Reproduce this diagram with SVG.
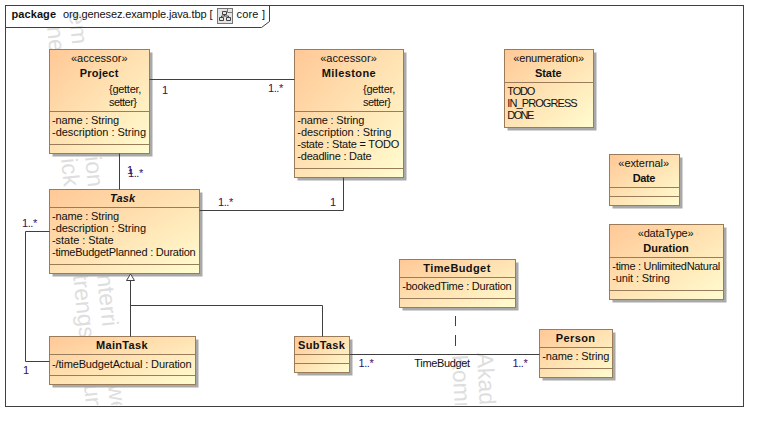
<svg xmlns="http://www.w3.org/2000/svg" width="758" height="421" viewBox="0 0 758 421">
<style>
text{font-family:"Liberation Sans",Arial,sans-serif;font-size:11px;fill:#111}
.t{font-weight:bold;text-anchor:middle}
.c{text-anchor:middle}
.m{fill:#3c0a5c}
.b{fill:url(#g);stroke:#9a7b5a;stroke-width:1}
.s{fill:#a9a9a9}
.d{stroke:#9a7b5a;stroke-width:1;fill:none}
.l{stroke:#404040;stroke-width:1;fill:none}
.w{font-size:23px;fill:#dedede}
</style>
<defs>
<linearGradient id="g" x1="0" y1="0" x2="1" y2="1">
<stop offset="0" stop-color="#ffc896"/>
<stop offset="1" stop-color="#fffdd0"/>
</linearGradient>
<clipPath id="wc"><rect x="6" y="6" width="737" height="399"/></clipPath>
</defs>
<rect width="758" height="421" fill="#fff"/>
<g id="watermark" clip-path="url(#wc)">
<text class="w" transform="translate(47,27) rotate(84)">ne</text>
<text class="w" transform="translate(69,13) rotate(84)">em</text>
<text class="w" transform="translate(61,159) rotate(84)">ick</text>
<text class="w" transform="translate(85,157) rotate(84)">ion</text>
<text class="w" transform="translate(73,275) rotate(84)">trengs</text>
<text class="w" transform="translate(97,275) rotate(84)">nterri</text>
<text class="w" transform="translate(84,385) rotate(84)">un</text>
<text class="w" transform="translate(108,385) rotate(84)">we</text>
<text class="w" transform="translate(452,355) rotate(87)">Komr</text>
<text class="w" transform="translate(477,353) rotate(87)">Akad</text>
</g>
<g id="frame">
<rect x="5.5" y="5.5" width="738" height="401" fill="none" stroke="#404040"/>
<path class="l" d="M5.5 27.5H261.5L269.5 21.5V5.5"/>
<text x="11.5" y="18" style="font-weight:bold" textLength="44.5">package</text>
<text x="63" y="18" textLength="149.5">org.genesez.example.java.tbp [</text>
<rect x="217.5" y="8.5" width="15" height="15" fill="#e4e4e4" stroke="#777"/>
<path d="M227.5 8.5V12.5H232.5" fill="none" stroke="#777"/>
<path d="M222.5 11.5h4v3h-4zM219.5 17.5h4v3h-4zM226.5 17.5h4v3h-4zM224.5 14.5v1.5M221.5 17.5v-1.5h7v1.5" fill="none" stroke="#444"/>
<text x="236.5" y="18" textLength="28.5">core ]</text>
</g>
<g id="Project">
<rect class="s" x="52.5" y="52.5" width="100" height="104"/>
<rect class="b" x="49.5" y="49.5" width="100" height="104"/>
<path class="d" d="M49.5 111.5H149.5M49.5 144.5H149.5"/>
<text class="c" x="99.3" y="62" textLength="56.7">«accessor»</text>
<text class="t" x="99" y="77" textLength="38.6">Project</text>
<text x="109" y="93" textLength="32.3">{getter,</text>
<text x="109" y="106" textLength="28">setter}</text>
<text x="52" y="124" textLength="67">-name : String</text>
<text x="52" y="136" textLength="94">-description : String</text>
</g>
<g id="Milestone">
<rect class="s" x="297.5" y="52.5" width="109" height="128"/>
<rect class="b" x="294.5" y="49.5" width="109" height="128"/>
<path class="d" d="M294.5 111.5H403.5M294.5 168.5H403.5"/>
<text class="c" x="348.5" y="62" textLength="56.7">«accessor»</text>
<text class="t" x="348.7" y="77" textLength="54">Milestone</text>
<text x="363" y="93" textLength="32.3">{getter,</text>
<text x="363" y="106" textLength="28">setter}</text>
<text x="297.3" y="124" textLength="67">-name : String</text>
<text x="297.3" y="136" textLength="94">-description : String</text>
<text x="297.3" y="148" textLength="102">-state : State = TODO</text>
<text x="297.3" y="160" textLength="74.4">-deadline : Date</text>
</g>
<g id="State">
<rect class="s" x="507.5" y="52.5" width="89" height="78"/>
<rect class="b" x="504.5" y="49.5" width="89" height="78"/>
<path class="d" d="M504.5 82.5H593.5"/>
<text class="c" x="548.7" y="62" textLength="70.7">«enumeration»</text>
<text class="t" x="548.3" y="77" textLength="26.7">State</text>
<text x="507.3" y="95" textLength="28">TODO</text>
<text x="507.3" y="107" textLength="70.4">IN_PROGRESS</text>
<text x="507.3" y="119" textLength="27">DONE</text>
</g>
<g id="Date">
<rect class="s" x="612.5" y="157.5" width="70" height="51"/>
<rect class="b" x="609.5" y="154.5" width="70" height="51"/>
<path class="d" d="M609.5 187.5H679.5M609.5 196.5H679.5"/>
<text class="c" x="643.7" y="167" textLength="50.7">«external»</text>
<text class="t" x="644" y="182" textLength="22.6">Date</text>
</g>
<g id="Duration">
<rect class="s" x="612.5" y="227.5" width="114" height="75"/>
<rect class="b" x="609.5" y="224.5" width="114" height="75"/>
<path class="d" d="M609.5 257.5H723.5M609.5 290.5H723.5"/>
<text class="c" x="665.7" y="237" textLength="56">«dataType»</text>
<text class="t" x="666" y="252" textLength="45.4">Duration</text>
<text x="612.3" y="270" textLength="108">-time : UnlimitedNatural</text>
<text x="612.3" y="282" textLength="57.5">-unit : String</text>
</g>
<g id="Task">
<rect class="s" x="52.5" y="192.5" width="150" height="84"/>
<rect class="b" x="49.5" y="189.5" width="150" height="84"/>
<path class="d" d="M49.5 207.5H199.5M49.5 264.5H199.5"/>
<text class="t" x="122.5" y="202" font-style="italic" textLength="25">Task</text>
<text x="52" y="220" textLength="67">-name : String</text>
<text x="52" y="232" textLength="94">-description : String</text>
<text x="52" y="244" textLength="61.7">-state : State</text>
<text x="52" y="256" textLength="143.7">-timeBudgetPlanned : Duration</text>
</g>
<g id="MainTask">
<rect class="s" x="52.5" y="339.5" width="146" height="48"/>
<rect class="b" x="49.5" y="336.5" width="146" height="48"/>
<path class="d" d="M49.5 354.5H195.5M49.5 375.5H195.5"/>
<text class="t" x="121.8" y="349" textLength="51.7">MainTask</text>
<text x="52" y="368" textLength="139.7">-/timeBudgetActual : Duration</text>
</g>
<g id="SubTask">
<rect class="s" x="297.5" y="339.5" width="55" height="36"/>
<rect class="b" x="294.5" y="336.5" width="55" height="36"/>
<path class="d" d="M294.5 354.5H349.5M294.5 363.5H349.5"/>
<text class="t" x="321.4" y="349" textLength="46.7">SubTask</text>
</g>
<g id="TimeBudget">
<rect class="s" x="402.5" y="262.5" width="116" height="48"/>
<rect class="b" x="399.5" y="259.5" width="116" height="48"/>
<path class="d" d="M399.5 277.5H515.5M399.5 298.5H515.5"/>
<text class="t" x="456.8" y="272" textLength="67">TimeBudget</text>
<text x="402.3" y="290" textLength="109.4">-bookedTime : Duration</text>
</g>
<g id="Person">
<rect class="s" x="542.5" y="332.5" width="73" height="48"/>
<rect class="b" x="539.5" y="329.5" width="73" height="48"/>
<path class="d" d="M539.5 347.5H612.5M539.5 368.5H612.5"/>
<text class="t" x="575.4" y="342" textLength="39.3">Person</text>
<text x="542.3" y="360" textLength="67">-name : String</text>
</g>
<g id="connectors">
<path class="l" d="M149.5 79.5H294.5"/>
<path class="l" d="M119.5 153.5V189.5"/>
<path class="l" d="M199.5 210.5H343.5V177.5"/>
<path class="l" d="M49.5 231.5H25.5V361.5H49.5"/>
<path class="l" d="M130.5 336.5V280M130.5 305.5H322.5V336.5"/>
<path d="M130.5 274L126.5 280.5H134.5Z" fill="#fff" stroke="#404040"/>
<path class="l" d="M349.5 354.5H539.5"/>
<path class="l" d="M455.5 316V326M455.5 335V346"/>
<text class="m" x="162" y="94">1</text>
<text class="m" x="268" y="92" textLength="15.3">1..*</text>
<text class="m" x="127" y="174">1</text>
<text class="m" x="128" y="177" textLength="15.3">1..*</text>
<text class="m" x="218" y="206" textLength="15.3">1..*</text>
<text class="m" x="330" y="206">1</text>
<text class="m" x="22" y="227" textLength="15.3">1..*</text>
<text class="m" x="23" y="374">1</text>
<text class="m" x="358.5" y="367" textLength="15.3">1..*</text>
<text class="m" x="512.5" y="367" textLength="15.3">1..*</text>
<text class="c" x="442.2" y="367" textLength="55.7">TimeBudget</text>
</g>
</svg>
